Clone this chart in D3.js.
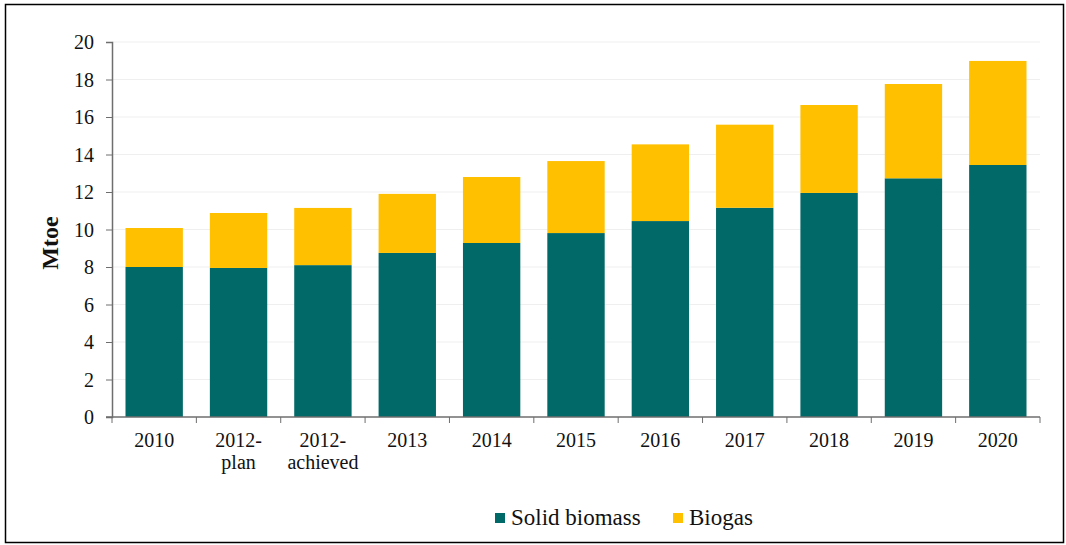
<!DOCTYPE html>
<html><head><meta charset="utf-8">
<script src="https://cdn.jsdelivr.net/npm/d3@7"></script>
<style>body{margin:0;background:#fff}svg{display:block}</style>
</head><body>
<script>
const categories = ["2010","2012-\nplan","2012-\nachieved","2013","2014","2015","2016","2017","2018","2019","2020"];
const solidBiomass = [8.0, 7.95, 8.1, 8.75, 9.28, 9.81, 10.45, 11.16, 11.95, 12.73, 13.44];
const biogas = [2.08, 2.93, 3.05, 3.15, 3.52, 3.84, 4.09, 4.43, 4.69, 5.03, 5.55];
const yTicks = [0,2,4,6,8,10,12,14,16,18,20];
const seriesNames = ["Solid biomass","Biogas"];
const colors = ["#016968","#FFC000"];

const W=1066,H=545;
const FF='Liberation Serif';
const svg=d3.select("body").append("svg").attr("width",W).attr("height",H);
svg.append("rect").attr("x",5.5).attr("y",4.5).attr("width",1058).attr("height",538).attr("fill","#fff").attr("stroke","#000").attr("stroke-width",1.5);

const m={l:112,r:1040,t:42,b:417};
const x=d3.scaleBand().domain(categories).range([m.l,m.r]).paddingInner(0.32).paddingOuter(0.16);
const y=d3.scaleLinear().domain([0,20]).range([m.b,m.t]);

svg.append("g").selectAll("line").data(yTicks.filter(d=>d>0)).join("line")
 .attr("x1",m.l).attr("x2",m.r).attr("y1",d=>y(d)).attr("y2",d=>y(d)).attr("stroke","#efefef").attr("stroke-width",1);

const rows=categories.map((c,i)=>({cat:c,s:solidBiomass[i],b:biogas[i]}));
const stack=d3.stack().keys(["s","b"])(rows);
svg.append("g").selectAll("g").data(stack).join("g").attr("fill",(d,i)=>colors[i])
 .selectAll("rect").data(d=>d).join("rect")
 .attr("x",d=>x(d.data.cat)).attr("width",x.bandwidth())
 .attr("y",d=>y(d[1])).attr("height",d=>y(d[0])-y(d[1]));

const ya=svg.append("g").attr("transform",`translate(${m.l},0)`)
 .call(d3.axisLeft(y).tickValues(yTicks).tickSize(6).tickPadding(12));
ya.attr("font-family",null).attr("font-size",null);
ya.select(".domain").attr("stroke","#6e6e6e").attr("stroke-width",1.5);
ya.selectAll(".tick line").attr("stroke","#6e6e6e");
ya.selectAll("text").style("font-family",FF).style("font-size","20px").attr("fill","#111").attr("dy","0.34em");

const xa=svg.append("g").attr("transform",`translate(0,${m.b})`);
xa.append("line").attr("x1",m.l-6).attr("x2",m.r).attr("stroke","#6e6e6e").attr("stroke-width",1.5);
const bounds=d3.range(categories.length+1).map(i=>m.l+i*(m.r-m.l)/categories.length);
xa.selectAll(".t").data(bounds).join("line").attr("x1",d=>d).attr("x2",d=>d).attr("y1",0).attr("y2",6).attr("stroke","#6e6e6e");
xa.selectAll(".lab").data(categories).join("text")
 .attr("text-anchor","middle").style("font-family",FF).style("font-size","20px").attr("fill","#111")
 .attr("transform",d=>`translate(${x(d)+x.bandwidth()/2},30)`)
 .each(function(d){const t=d3.select(this);d.split("\n").forEach((p,i)=>t.append("tspan").attr("x",0).attr("dy",i?22:0).text(p));});

svg.append("text").attr("transform","translate(58,243) rotate(-90)").attr("text-anchor","middle")
 .style("font-family",FF).style("font-size","24px").style("font-weight","bold").attr("fill","#111").text("Mtoe");

const lg=svg.append("g");
const lx=[495,673];
seriesNames.forEach((n,i)=>{
 lg.append("rect").attr("x",lx[i]).attr("y",513).attr("width",10).attr("height",10).attr("fill",colors[i]);
 lg.append("text").attr("x",lx[i]+16).attr("y",525).style("font-family",FF).style("font-size","23px").attr("fill","#111").text(n);
});
</script>
</body></html>
